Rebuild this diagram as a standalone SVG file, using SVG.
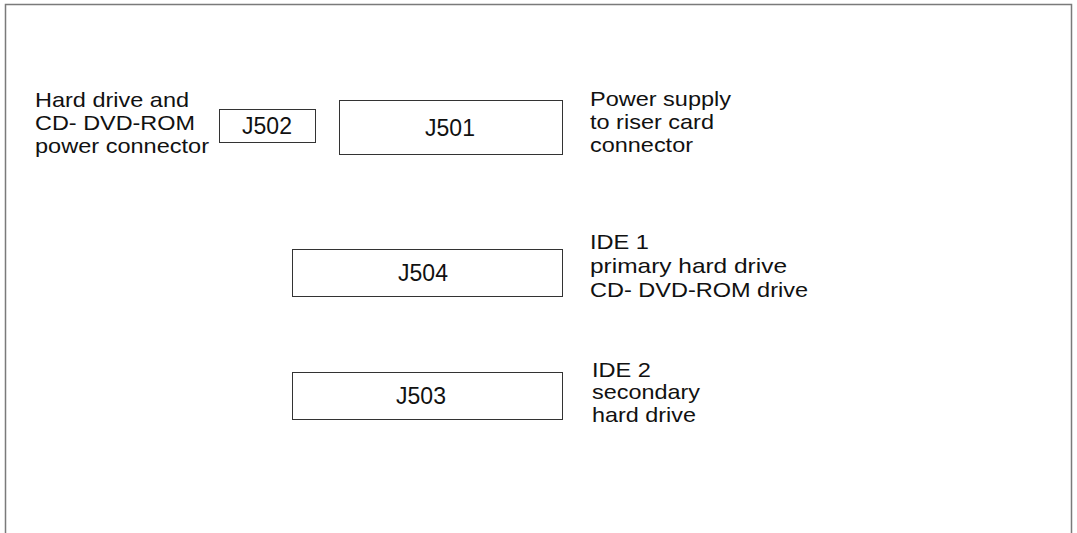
<svg xmlns="http://www.w3.org/2000/svg" width="1077" height="533" viewBox="0 0 1077 533">
<style>
.frame{fill:none;stroke:#7a7a7a;stroke-width:1.5}
.box{fill:#fff;stroke:#333;stroke-width:1}
text{font-family:"Liberation Sans",Arial,sans-serif;font-size:21px;fill:#111}
.c{text-anchor:middle;font-size:23px}
</style>
<rect width="1077" height="533" fill="#fff"/>
<path class="frame" d="M5.5,540 V4.5 H1071.5 V540"/>
<g id="connectors"></g>
<g id="j502"><rect class="box" x="219.5" y="109.5" width="96" height="33"/><text class="c" x="267" y="134">J502</text></g>
<g id="j501"><rect class="box" x="339.5" y="100.5" width="223" height="54"/><text class="c" x="450" y="136">J501</text></g>
<g id="j504"><rect class="box" x="292.5" y="249.5" width="270" height="47"/><text class="c" x="423" y="281">J504</text></g>
<g id="j503"><rect class="box" x="292.5" y="372.5" width="270" height="47"/><text class="c" x="421" y="404">J503</text></g>
<g id="label-j502" lengthAdjust="spacingAndGlyphs">
<text x="35" y="107" textLength="154" lengthAdjust="spacingAndGlyphs">Hard drive and</text>
<text x="35" y="130" textLength="160" lengthAdjust="spacingAndGlyphs">CD- DVD-ROM</text>
<text x="35" y="153" textLength="174" lengthAdjust="spacingAndGlyphs">power connector</text></g>
<g id="label-j501">
<text x="590" y="106" textLength="141" lengthAdjust="spacingAndGlyphs">Power supply</text>
<text x="590" y="129" textLength="124" lengthAdjust="spacingAndGlyphs">to riser card</text>
<text x="590" y="152" textLength="103" lengthAdjust="spacingAndGlyphs">connector</text></g>
<g id="label-j504">
<text x="590" y="249" textLength="59" lengthAdjust="spacingAndGlyphs">IDE 1</text>
<text x="590" y="273" textLength="197" lengthAdjust="spacingAndGlyphs">primary hard drive</text>
<text x="590" y="297" textLength="218" lengthAdjust="spacingAndGlyphs">CD- DVD-ROM drive</text></g>
<g id="label-j503">
<text x="592" y="377" textLength="59" lengthAdjust="spacingAndGlyphs">IDE 2</text>
<text x="592" y="399" textLength="108" lengthAdjust="spacingAndGlyphs">secondary</text>
<text x="592" y="422" textLength="104" lengthAdjust="spacingAndGlyphs">hard drive</text></g>
</svg>
